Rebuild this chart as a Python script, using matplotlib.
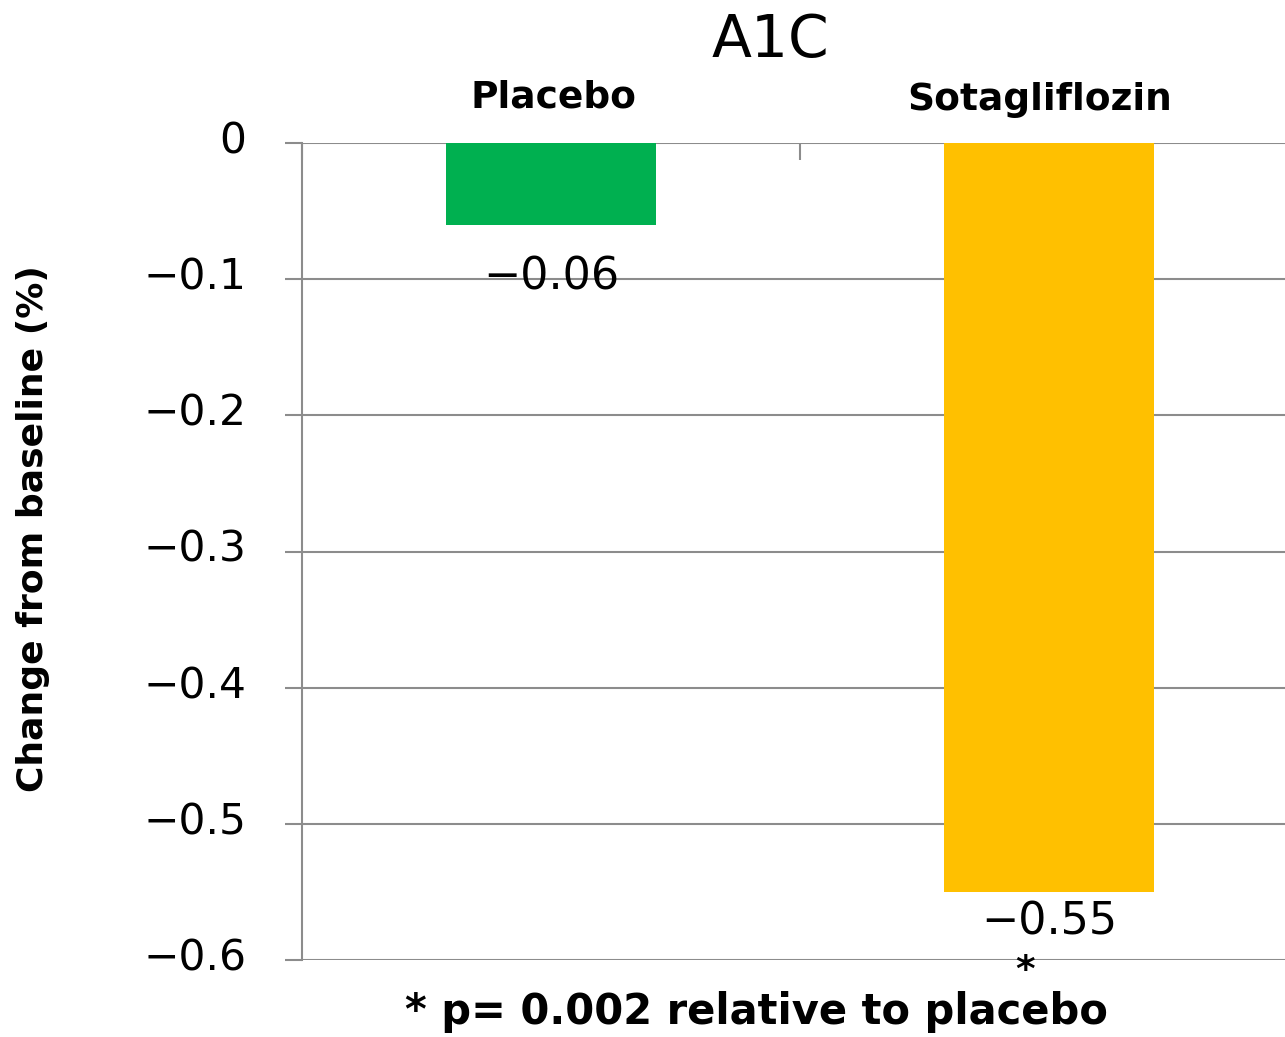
import matplotlib
matplotlib.use("Agg")
import matplotlib.pyplot as plt
import matplotlib.transforms as mtransforms

groups = ["Placebo", "Sotagliflozin"]
change = [-0.06, -0.55]
labels = ["\u22120.06", "\u22120.55"]
colors = ["#00B050", "#FFC000"]
yticks = [0, -0.1, -0.2, -0.3, -0.4, -0.5, -0.6]
ytick_labels = ["0", "\u22120.1", "\u22120.2", "\u22120.3", "\u22120.4", "\u22120.5", "\u22120.6"]

plt.rcParams["font.family"] = ["DejaVu Sans"]
grey = "#8c8c8c"

fig = plt.figure(figsize=(12.85, 10.37), dpi=100)
ax = fig.add_axes([302 / 1285, 77 / 1037, 996 / 1285, 817 / 1037])

x = range(len(groups))
ax.bar(x, change, width=0.42, color=colors, zorder=3)

ax.set_xlim(-0.5, 1.5)
ax.set_ylim(-0.6, 0)
ax.set_yticks(yticks)
ax.set_yticklabels(ytick_labels, fontsize=30.5)
ax.tick_params(axis="y", length=12, width=1.5, color=grey, pad=28)
# lift the tick labels a little above their gridlines
shift = mtransforms.ScaledTranslation(0, 6 / 100, fig.dpi_scale_trans)
for lab in ax.get_yticklabels():
    lab.set_transform(lab.get_transform() + shift)

# category boundary ticks hang down from the zero line
ax.xaxis.tick_top()
ax.set_xticks([-0.5, 0.5, 1.5])
ax.set_xticklabels([])
ax.tick_params(axis="x", direction="in", length=12, width=1.5, color=grey)

ax.yaxis.grid(True, color=grey, linewidth=1.5)
ax.set_axisbelow(True)
for side in ["top", "right", "bottom"]:
    ax.spines[side].set_visible(False)
ax.spines["left"].set_color(grey)
ax.spines["left"].set_linewidth(1.5)

# group names above the zero line
name_offsets = [(2, 20), (-7, 18)]
for i, name in enumerate(groups):
    ax.annotate(name, (i, 0), xytext=name_offsets[i], textcoords="offset points",
                ha="center", va="bottom", fontsize=27, fontweight="bold")

# value labels under each bar
offsets = [-22, -6]
for i, (v, lab) in enumerate(zip(change, labels)):
    ax.annotate(lab, (i, v), xytext=(0, offsets[i]), textcoords="offset points",
                ha="center", va="top", fontsize=32)

ax.annotate("*", (1, -0.6), xytext=(-17, -8), textcoords="offset points",
            ha="center", va="center", fontsize=27, fontweight="bold")

fig.text(770 / 1285, 1 - 40 / 1037, "A1C", ha="center", va="center", fontsize=42)
fig.text(33 / 1285, 1 - 529 / 1037, "Change from baseline (%)", rotation=90,
         ha="center", va="center", fontsize=26, fontweight="bold")
fig.text(756 / 1285, 1 - 1012 / 1037, "* p= 0.002 relative to placebo",
         ha="center", va="center", fontsize=30, fontweight="bold")

fig.savefig("out.png", dpi=100)
